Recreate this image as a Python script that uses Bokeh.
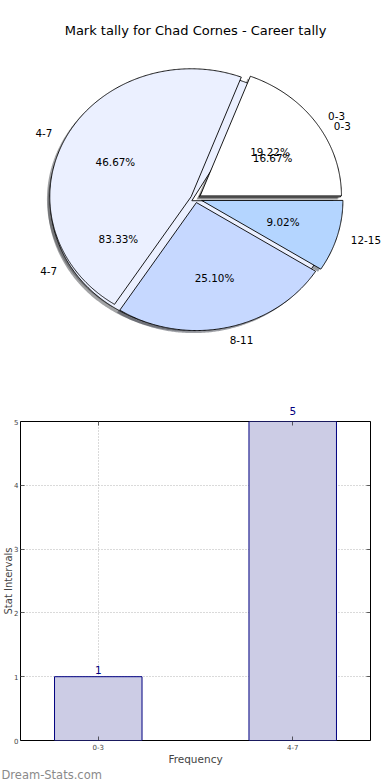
import numpy as np
from bokeh.plotting import figure
from bokeh.models import Range1d, LinearAxis, FixedTicker, Label, Title
from bokeh.embed import file_html
from bokeh.resources import INLINE
from bokeh.core.properties import value

# ---------------- data ----------------
title_text = "Mark tally for Chad Cornes - Career tally"
pie_a_labels = ["0-3", "4-7", "8-11", "12-15"]
pie_a_values = [19.22, 46.67, 25.10, 9.02]
pie_b_labels = ["0-3", "4-7"]
pie_b_values = [16.67, 83.33]
bar_categories = ["0-3", "4-7"]
bar_values = [1, 5]
y_ticks = [0, 1, 2, 3, 4, 5]
x_label = "Frequency"
y_label = "Stat Intervals"
watermark = "Dream-Stats.com"

# ---------------- styles ----------------
FONT = "DejaVu Sans"
pie_a_colors = ["#FFFFFF", "#EBF0FF", "#C6D8FF", "#B4D5FF"]
pie_b_colors = ["#FFFFFF", "#EBF0FF"]
pie_a_explode = [0.04, 0.035, 0.03, 0.045]
pie_b_explode = [0.03, 0.03]

W = 390
TOP_H = 395
BOT_H = 385

# ---------------- pie figure ----------------
RX, RY = 141.3, 128.0
CX, CY = 195.0, 198.3
top = figure(width=W, height=TOP_H,
             x_range=Range1d(-CX / RX, (W - CX) / RX),
             y_range=Range1d(-(TOP_H - CY) / RY, CY / RY),
             x_axis_location=None, y_axis_location=None,
             toolbar_location=None, output_backend="svg",
             min_border=0, min_border_left=0, min_border_right=0,
             min_border_top=0, min_border_bottom=0)
top.outline_line_color = None
top.grid.visible = False
top.background_fill_color = "white"


def wedge_geometry(values, explode):
    total = float(sum(values))
    out = []
    start = 0.0
    for v, e in zip(values, explode):
        t1 = start
        t2 = start + 360.0 * v / total
        tm = np.deg2rad((t1 + t2) / 2.0)
        cx, cy = e * np.cos(tm), e * np.sin(tm)
        th = np.deg2rad(np.linspace(t1, t2, max(int(t2 - t1) * 2, 4)))
        xs = [cx] + list(cx + np.cos(th)) + [cx]
        ys = [cy] + list(cy + np.sin(th)) + [cy]
        out.append((xs, ys, cx, cy, tm))
        start = t2
    return out


geo_a = wedge_geometry(pie_a_values, pie_a_explode)
geo_b = wedge_geometry(pie_b_values, pie_b_explode)


def shade(hexcol):
    h = hexcol.lstrip("#")
    r, g, b = (int(h[i:i + 2], 16) for i in (0, 2, 4))
    return "#%02x%02x%02x" % (int(r * 0.3), int(g * 0.3), int(b * 0.3))


# shadows first (both pies), then wedges of pie B, then pie A
for geo, cols in ((geo_b, pie_b_colors), (geo_a, pie_a_colors)):
    top.patches(xs=[[x - 0.02 for x in g[0]] for g in geo],
                ys=[[y - 0.02 for y in g[1]] for g in geo],
                fill_color=[shade(c) for c in cols], fill_alpha=0.5,
                line_color=None)

for geo, cols in ((geo_b, pie_b_colors), (geo_a, pie_a_colors)):
    top.patches(xs=[g[0] for g in geo], ys=[g[1] for g in geo],
                fill_color=cols, line_color="black", line_width=0.9)


def add_texts(geo, labels, values):
    lx, ly, la, px, py, pt = [], [], [], [], [], []
    for (xs, ys, cx, cy, tm), lab, v in zip(geo, labels, values):
        x = cx + 1.1 * np.cos(tm)
        lx.append(x)
        ly.append(cy + 1.1 * np.sin(tm))
        la.append("left" if x > 0 else "right")
        px.append(cx + 0.6 * np.cos(tm))
        py.append(cy + 0.6 * np.sin(tm))
        pt.append("%.2f%%" % v)
    for i in range(len(lx)):
        top.text(x=[lx[i]], y=[ly[i]], text=[labels[i]], text_align=la[i],
                 text_baseline="middle", text_font=value(FONT),
                 text_font_size="10.4px", text_color="black")
    top.text(x=px, y=py, text=pt, text_align="center", text_baseline="middle",
             text_font=value(FONT), text_font_size="10.4px", text_color="black")


add_texts(geo_a, pie_a_labels, pie_a_values)
add_texts(geo_b, pie_b_labels, pie_b_values)

top.text(x=[0], y=[(CY - 30) / RY], text=[title_text], text_align="center",
         text_baseline="middle", text_font=value(FONT), text_font_size="13px",
         text_color="black")

# ---------------- bar figure ----------------
xs = list(range(len(bar_categories)))
Y_MAX = y_ticks[-1]
FL = 19
bot = figure(width=W, height=BOT_H, x_range=Range1d(-0.4, 1.4), y_range=Range1d(0, Y_MAX),
             toolbar_location=None, output_backend="svg",
             min_border_left=FL, min_border_right=20, min_border_top=26, min_border_bottom=40)
bot.outline_line_color = "black"
bot.outline_line_width = 1

xt = FixedTicker(ticks=xs)
yt = FixedTicker(ticks=y_ticks)

xa = bot.xaxis[0]
xa.ticker = xt
xa.major_label_overrides = {i: c for i, c in enumerate(bar_categories)}
xa.axis_label = x_label
ya = bot.yaxis[0]
ya.ticker = yt
ya.axis_label = y_label

for ax in (xa, ya):
    ax.axis_line_color = None
    ax.major_tick_in = 4
    ax.major_tick_out = 0
    ax.minor_tick_line_color = None
    ax.major_tick_line_color = "black"
    ax.major_tick_line_width = 0.6
    ax.major_label_text_font = FONT
    ax.major_label_text_font_size = "7px"
    ax.axis_label_text_font = FONT
    ax.axis_label_text_font_style = "normal"
xa.axis_label_text_font_size = "10.5px"
xa.axis_label_standoff = 0
xa.major_label_standoff = 3
ya.axis_label_text_font_size = "10px"
ya.axis_label_standoff = -3
ya.major_label_standoff = 2

ra = LinearAxis(ticker=yt)
ta = LinearAxis(ticker=xt)
for ax in (ra, ta):
    ax.axis_line_color = None
    ax.major_tick_in = 4
    ax.major_tick_out = 0
    ax.minor_tick_line_color = None
    ax.major_tick_line_color = "black"
    ax.major_tick_line_width = 0.6
    ax.major_label_text_font_size = "1px"
    ax.major_label_text_color = None
    ax.major_label_standoff = 0
bot.add_layout(ra, "right")
bot.add_layout(ta, "above")

# value labels of bars that reach the top of the axis sit above the frame
top_idx = [x for x, v in zip(xs, bar_values) if v >= Y_MAX]
va = LinearAxis(ticker=FixedTicker(ticks=top_idx),
                major_label_overrides={x: str(v) for x, v in zip(xs, bar_values) if v >= Y_MAX})
va.axis_line_color = None
va.major_tick_line_color = None
va.minor_tick_line_color = None
va.major_label_standoff = 1
va.major_label_text_color = "#000080"
va.major_label_text_font = FONT
va.major_label_text_font_size = "10.5px"
bot.add_layout(va, "above")

bot.xgrid.ticker = xt
bot.ygrid.ticker = yt
bot.grid.grid_line_color = "#b5b5b5"
bot.grid.grid_line_dash = "1 2"
bot.grid.grid_line_width = 1

bot.vbar(x=xs, top=bar_values, width=0.45, bottom=0,
         fill_color="#CCCCE5", line_color="#000080", line_width=1)

for xv, yv in zip(xs, bar_values):
    if yv < Y_MAX:
        bot.add_layout(Label(x=xv, y=yv, text=str(yv), y_offset=3,
                             text_align="center", text_baseline="bottom",
                             text_color="#000080", text_font=FONT,
                             text_font_size="10.5px"))

bot.add_layout(Title(text=watermark, align="left", offset=-FL, standoff=-4,
                     text_font=FONT, text_font_size="11.5px", text_font_style="normal",
                     text_color="#8a8a8a"), "below")

open("out.html", "w").write(file_html([top, bot], INLINE))
